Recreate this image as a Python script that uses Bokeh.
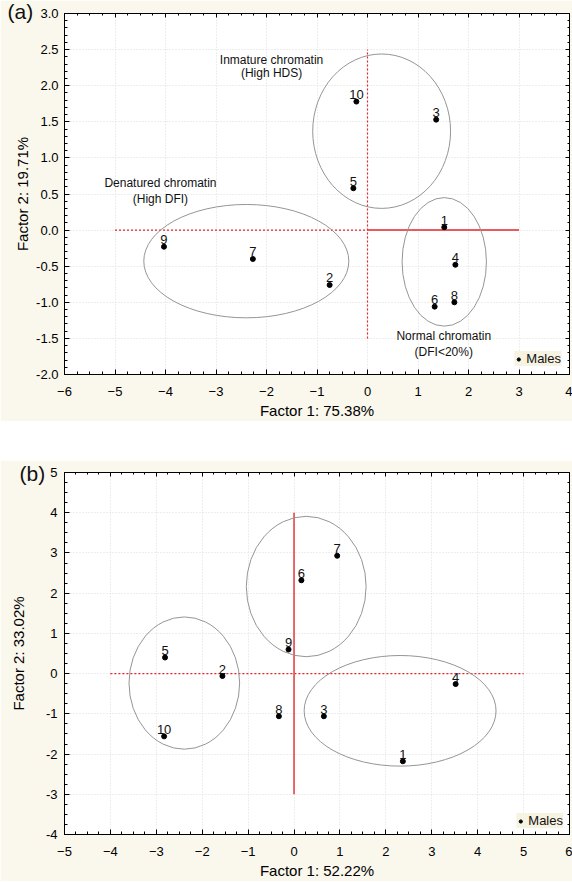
from bokeh.plotting import figure
from bokeh.models import (ColumnDataSource, FixedTicker, LinearAxis, Range1d,
                          Spacer, NumeralTickFormatter)
from bokeh.layouts import column
from bokeh.embed import file_html
from bokeh.resources import INLINE

FONT = "Liberation Sans"
CREAM = "#faf7ec"
RED = "#e3262b"

# ---------------- Panel (a) data ----------------
a_ids = ["1", "2", "3", "4", "5", "6", "7", "8", "9", "10"]
a_x = [1.52, -0.75, 1.36, 1.74, -0.28, 1.33, -2.27, 1.72, -4.03, -0.22]
a_y = [0.04, -0.76, 1.53, -0.48, 0.58, -1.06, -0.40, -1.00, -0.23, 1.78]

a_ell_x = [0.28, -2.40, 1.52]
a_ell_y = [1.37, -0.43, -0.44]
a_ell_w = [2.73, 4.06, 1.67]
a_ell_h = [2.14, 1.57, 1.78]

a_ann_line1 = ["Inmature chromatin", "Denatured chromatin", "Normal chromatin"]
a_ann_line2 = ["(High HDS)", "(High DFI)", "(DFI<20%)"]
a_ann_x = [-1.90, -4.10, 1.51]
a_ann_y1 = [2.35, 0.65, -1.47]
a_ann_y2 = [2.17, 0.43, -1.69]

a_xticks = [-6, -5, -4, -3, -2, -1, 0, 1, 2, 3, 4]
a_yticks = [-2.0, -1.5, -1.0, -0.5, 0.0, 0.5, 1.0, 1.5, 2.0, 2.5, 3.0]
a_xlabel = "Factor 1: 75.38%"
a_ylabel = "Factor 2: 19.71%"
# reference lines: (x0, y0, x1, y1)
a_dotted = [(-5, 0, 0, 0), (0, -1.5, 0, 2.5)]
a_solid = [(0, 0, 3, 0)]

# ---------------- Panel (b) data ----------------
b_ids = ["1", "2", "3", "4", "5", "6", "7", "8", "9", "10"]
b_x = [2.37, -1.56, 0.65, 3.52, -2.81, 0.16, 0.94, -0.33, -0.12, -2.83]
b_y = [-2.18, -0.06, -1.06, -0.26, 0.40, 2.32, 2.93, -1.06, 0.60, -1.56]

b_ell_x = [-2.39, 0.265, 2.31]
b_ell_y = [-0.235, 2.165, -0.925]
b_ell_w = [2.41, 2.61, 4.18]
b_ell_h = [3.29, 3.49, 2.75]

b_xticks = [-5, -4, -3, -2, -1, 0, 1, 2, 3, 4, 5, 6]
b_yticks = [-4, -3, -2, -1, 0, 1, 2, 3, 4, 5]
b_xlabel = "Factor 1: 52.22%"
b_ylabel = "Factor 2: 33.02%"
b_dotted = [(-4, 0, 5, 0)]
b_solid = [(0, -3, 0, 4)]


def minor(ticks, n):
    out = []
    for t0, t1 in zip(ticks[:-1], ticks[1:]):
        step = (t1 - t0) / n
        out += [t0 + k * step for k in range(1, n)]
    return out


def style_axis(ax, label_size="13px"):
    ax.axis_line_color = "black"
    ax.major_tick_in = 5
    ax.major_tick_out = 0
    ax.minor_tick_in = 3
    ax.minor_tick_out = 0
    ax.major_tick_line_color = "black"
    ax.minor_tick_line_color = "black"
    ax.major_label_text_font = FONT
    ax.major_label_text_font_size = label_size
    ax.major_label_text_color = "#000000"
    ax.axis_label_text_font = FONT
    ax.axis_label_text_font_size = "15px"
    ax.axis_label_text_font_style = "normal"
    ax.axis_label_text_color = "#000000"


def make_panel(width, height, borders, xr, yr, xticks, yticks, xminor, yminor,
               yfmt, xlabel, ylabel, ids, xs, ys, ex, ey, ew, eh,
               dotted, solid, solid_color, solid_width,
               xstand, ystand, xlab_stand, ylab_stand, legend_margin,
               tag, tag_offset, tag_standoff):
    p = figure(width=width, height=height, x_range=Range1d(*xr), y_range=Range1d(*yr),
               output_backend="svg", toolbar_location=None,
               min_border_left=borders[0], min_border_right=borders[1],
               min_border_top=borders[2], min_border_bottom=borders[3])
    p.background_fill_color = "white"
    p.border_fill_color = CREAM
    p.outline_line_color = "black"
    p.outline_line_width = 1

    # panel tag "(a)" / "(b)" drawn as the figure title
    p.title.text = tag
    p.title.align = "left"
    p.title.offset = tag_offset
    p.title.standoff = tag_standoff
    p.title.text_font = FONT
    p.title.text_font_size = "21px"
    p.title.text_font_style = "normal"
    p.title.text_color = "#111111"

    xt = FixedTicker(ticks=xticks, minor_ticks=minor(xticks, xminor))
    yt = FixedTicker(ticks=yticks, minor_ticks=minor(yticks, yminor))
    p.xaxis.ticker = xt
    p.yaxis.ticker = yt
    p.yaxis.formatter = NumeralTickFormatter(format=yfmt)
    p.xaxis.axis_label = xlabel
    p.yaxis.axis_label = ylabel
    style_axis(p.xaxis[0])
    style_axis(p.yaxis[0])
    p.xaxis.major_label_standoff = xstand
    p.yaxis.major_label_standoff = ystand
    p.xaxis.axis_label_standoff = xlab_stand
    p.yaxis.axis_label_standoff = ylab_stand

    for loc, tk, tks in (("above", xt, xticks), ("right", yt, yticks)):
        ax = LinearAxis(ticker=tk)
        style_axis(ax)
        ax.major_label_overrides = {t: "" for t in tks}
        ax.major_label_text_font_size = "1px"
        ax.major_label_standoff = 0
        ax.major_tick_in = 4
        ax.minor_tick_in = 2
        p.add_layout(ax, loc)

    p.grid.grid_line_color = "#dcdcdc"
    p.grid.grid_line_dash = "1 2"
    p.xgrid.ticker = xt
    p.ygrid.ticker = yt

    # reference lines
    for (x0, y0, x1, y1) in dotted:
        p.line([x0, x1], [y0, y1], line_color=RED, line_width=1.2, line_dash="2 2")
    for (x0, y0, x1, y1) in solid:
        p.line([x0, x1], [y0, y1], line_color=solid_color, line_width=solid_width)

    # group ellipses
    p.ellipse(x=ex, y=ey, width=ew, height=eh, fill_color=None,
              line_color="#959595", line_width=1)

    src = ColumnDataSource(dict(x=xs, y=ys, t=ids))
    p.scatter("x", "y", source=src, size=5, color="black", legend_label="Males")
    p.text("x", "y", text="t", source=src, text_align="center",
           text_baseline="alphabetic", y_offset=-7, text_font_size="13px",
           text_color="#111111", text_font={"value": FONT})

    lg = p.legend[0]
    lg.location = "bottom_right"
    lg.background_fill_color = "#f7f3e2"
    lg.background_fill_alpha = 1
    lg.border_line_color = None
    lg.label_text_font = FONT
    lg.label_text_font_size = "13px"
    lg.label_text_color = "#111111"
    lg.glyph_width = 8
    lg.glyph_height = 10
    lg.label_height = 12
    lg.label_standoff = 4
    lg.padding = 5
    lg.margin = legend_margin
    lg.spacing = 0
    return p


p1 = make_panel(572, 421, (64, 3, 13, 47), (-6, 4), (-2, 3), a_xticks, a_yticks, 4, 5,
                "0.0", a_xlabel, a_ylabel, a_ids, a_x, a_y,
                a_ell_x, a_ell_y, a_ell_w, a_ell_h, a_dotted, a_solid, RED, 1.5,
                12, 6, 3, 2, 8, "(a)", -57, -19)
p1.text(x=a_ann_x, y=a_ann_y1, text=a_ann_line1, text_align="center", text_baseline="middle",
        text_font_size="12px", text_color="#111111", text_font={"value": FONT})
p1.text(x=a_ann_x, y=a_ann_y2, text=a_ann_line2, text_align="center", text_baseline="middle",
        text_font_size="12px", text_color="#111111", text_font={"value": FONT})

p2 = make_panel(572, 421, (53, 3, 12, 47), (-5, 6), (-4, 5), b_xticks, b_yticks, 4, 4,
                "0", b_xlabel, b_ylabel, b_ids, b_x, b_y,
                b_ell_x, b_ell_y, b_ell_w, b_ell_h, b_dotted, b_solid, "#e8585c", 1.8,
                12, 7, 3, 16, 6, "(b)", -45, -24)

layout = column(p1, Spacer(width=572, height=39), p2)
open("out.html", "w").write(file_html(layout, INLINE))
